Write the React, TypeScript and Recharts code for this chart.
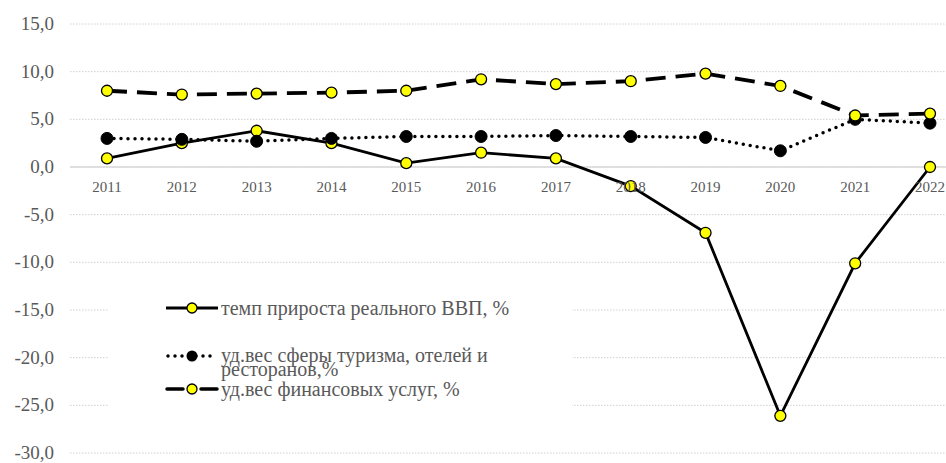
import React from 'react';
import { LineChart, Line, XAxis, YAxis, CartesianGrid, ReferenceLine, Legend } from 'recharts';

const years = ['2011', '2012', '2013', '2014', '2015', '2016', '2017', '2018', '2019', '2020', '2021', '2022'];
const gdpGrowth = [0.9, 2.5, 3.8, 2.5, 0.4, 1.5, 0.9, -2.0, -6.9, -26.1, -10.1, 0.0];
const tourismShare = [3.0, 2.9, 2.7, 3.0, 3.2, 3.2, 3.3, 3.2, 3.1, 1.7, 5.0, 4.6];
const financeShare = [8.0, 7.6, 7.7, 7.8, 8.0, 9.2, 8.7, 9.0, 9.8, 8.5, 5.4, 5.6];
const yTicks = [-30, -25, -20, -15, -10, -5, 0, 5, 10, 15];

const seriesNames = {
  gdp: 'темп прироста реального ВВП,  %',
  tourism: 'уд.вес сферы туризма, отелей и ресторанов,%',
  finance: 'уд.вес финансовых услуг, %',
};

const data = years.map((year, i) => ({
  year,
  gdp: gdpGrowth[i],
  tourism: tourismShare[i],
  finance: financeShare[i],
}));

const CHART_W = 990;
const CHART_H = 463;
const X_AXIS_H = 10;
const MARGIN = { top: 24, right: 23, bottom: 0, left: 0 };
const Y_MIN = -30;
const Y_MAX = 15;
const PLOT_H = CHART_H - MARGIN.top - MARGIN.bottom - X_AXIS_H;
const ZERO_FROM_BOTTOM = (PLOT_H * (0 - Y_MIN)) / (Y_MAX - Y_MIN);

const TEXT_COLOR = '#595959';
const FONT = "'Liberation Serif', 'Times New Roman', serif";

const fmt = (v: number) => v.toFixed(1).replace('.', ',');

const renderXTick = (props: any) => {
  const { x, y, payload, index } = props;
  return (
    <text key={index} x={x} y={y - ZERO_FROM_BOTTOM + 17} textAnchor="middle" fill={TEXT_COLOR} fontSize={15} style={{ fontFamily: FONT }}>
      {payload.value}
    </text>
  );
};

const renderYTick = (props: any) => {
  const { x, y, payload, index } = props;
  return (
    <text key={index} x={x} y={y} dy={6} textAnchor="end" fill={TEXT_COLOR} fontSize={19} style={{ fontFamily: FONT }}>
      {fmt(payload.value)}
    </text>
  );
};

const YellowDot = (props: any) => {
  const { cx, cy, index } = props;
  if (cx == null || cy == null) return <g key={index} />;
  return <circle key={index} cx={cx} cy={cy} r={5.5} fill="#FFFF00" stroke="#000" strokeWidth={1.3} />;
};
const BlackDot = (props: any) => {
  const { cx, cy, index } = props;
  if (cx == null || cy == null) return <g key={index} />;
  return <circle key={index} cx={cx} cy={cy} r={6} fill="#000" stroke="#000" strokeWidth={1} />;
};

const LegendIcon = ({ kind }: { kind: 'gdp' | 'tourism' | 'finance' }) => (
  <svg width={54} height={14} style={{ display: 'block', flex: '0 0 auto' }}>
    {kind === 'gdp' && <line x1={1} y1={7} x2={53} y2={7} stroke="#000" strokeWidth={3} />}
    {kind === 'finance' && (
      <>
        <line x1={2} y1={7} x2={18} y2={7} stroke="#000" strokeWidth={3.5} strokeLinecap="round" />
        <line x1={36} y1={7} x2={52} y2={7} stroke="#000" strokeWidth={3.5} strokeLinecap="round" />
      </>
    )}
    {kind === 'tourism' && (
      <line x1={3} y1={7} x2={52} y2={7} stroke="#000" strokeWidth={3.5} strokeDasharray="0 7" strokeLinecap="round" />
    )}
    {kind === 'tourism' ? (
      <circle cx={27} cy={7} r={5.5} fill="#000" />
    ) : (
      <circle cx={27} cy={7} r={5} fill="#FFFF00" stroke="#000" strokeWidth={1.3} />
    )}
  </svg>
);

const textStyle: React.CSSProperties = { fontFamily: FONT, fontSize: 20, color: TEXT_COLOR, marginLeft: 2 };

const LegendContent = () => (
  <div style={{ fontFamily: FONT, background: '#fff', width: '100%', height: '100%', position: 'relative' }}>
    <div style={{ position: 'absolute', left: 57, top: 21, display: 'flex', alignItems: 'center', lineHeight: '18px' }}>
      <LegendIcon kind="gdp" />
      <span style={{ ...textStyle, whiteSpace: 'nowrap' }}>{seriesNames.gdp}</span>
    </div>
    <div style={{ position: 'absolute', left: 57, top: 70, display: 'flex', alignItems: 'flex-start', lineHeight: '14px' }}>
      <div style={{ marginTop: 1 }}>
        <LegendIcon kind="tourism" />
      </div>
      <span style={{ ...textStyle, width: 300, whiteSpace: 'normal' }}>{seriesNames.tourism}</span>
    </div>
    <div style={{ position: 'absolute', left: 57, top: 102, display: 'flex', alignItems: 'center', lineHeight: '18px' }}>
      <LegendIcon kind="finance" />
      <span style={{ ...textStyle, whiteSpace: 'nowrap' }}>{seriesNames.finance}</span>
    </div>
  </div>
);

export default function App() {
  return (
    <div style={{ position: 'absolute', left: 0, top: 0, width: 946, height: 463, overflow: 'hidden', background: '#fff' }}>
      <LineChart width={CHART_W} height={CHART_H} data={data} margin={MARGIN}>
        <CartesianGrid vertical={false} stroke="#d0d0d0" strokeDasharray="1.5 1.5" />
        <XAxis
          dataKey="year"
          scale="point"
          padding={{ left: 37, right: 37 }}
          height={X_AXIS_H}
          axisLine={false}
          tickLine={false}
          tick={renderXTick}
          interval={0}
        />
        <YAxis
          width={70}
          domain={[Y_MIN, Y_MAX]}
          ticks={yTicks}
          axisLine={false}
          tickLine={false}
          tickSize={0}
          tickMargin={16}
          tick={renderYTick}
          interval={0}
        />
        <ReferenceLine y={0} stroke="#d9d9d9" strokeWidth={1.5} />
        <Legend
          layout="horizontal"
          verticalAlign="middle"
          align="center"
          content={<LegendContent />}
          wrapperStyle={{ position: 'absolute', left: 108, top: 278, width: 464, height: 140 }}
        />
        <Line
          type="linear"
          dataKey="gdp"
          name={seriesNames.gdp}
          stroke="#000"
          strokeWidth={2.8}
          dot={<YellowDot />}
          activeDot={false}
          isAnimationActive={false}
        />
        <Line
          type="linear"
          dataKey="tourism"
          name={seriesNames.tourism}
          stroke="#000"
          strokeWidth={3.5}
          strokeDasharray="0 7"
          strokeLinecap="round"
          dot={<BlackDot />}
          activeDot={false}
          isAnimationActive={false}
        />
        <Line
          type="linear"
          dataKey="finance"
          name={seriesNames.finance}
          stroke="#000"
          strokeWidth={3.8}
          strokeDasharray="20 10"
          dot={<YellowDot />}
          activeDot={false}
          isAnimationActive={false}
        />
      </LineChart>
    </div>
  );
}
